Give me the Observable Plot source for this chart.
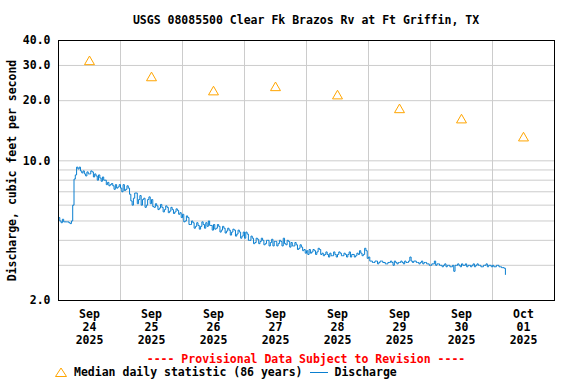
<!DOCTYPE html>
<html>
<head>
<meta charset="utf-8">
<script src="https://cdn.jsdelivr.net/npm/d3@7"></script>
<script src="https://cdn.jsdelivr.net/npm/@observablehq/plot@0.6"></script>
<style>
  body { margin: 0; background: white; }
  #wrap { position: relative; width: 576px; height: 384px; font-family: "DejaVu Sans Mono", monospace; font-weight: bold; font-size: 11.5px; color: black; }
  .abs { position: absolute; white-space: nowrap; line-height: 14px; }
  #legend { display: flex; align-items: center; height: 14px; }
</style>
</head>
<body>
<div id="wrap">
  <div class="abs" style="top:13px;left:58px;width:496px;text-align:center;">USGS 08085500 Clear Fk Brazos Rv at Ft Griffin, TX</div>
  <div id="chart" style="position:absolute;top:30px;left:0;"></div>
  <div class="abs" style="top:352px;left:58px;width:496px;text-align:center;color:#ff0000;">---- Provisional Data Subject to Revision ----</div>
  <div class="abs" id="legend" style="top:365px;left:54px;"><svg width="14" height="12"><path d="M7,2 L12.5,10.5 L1.5,10.5 Z" fill="none" stroke="orange" stroke-width="1"/></svg><span style="margin-left:6px">Median daily statistic (86 years)</span><svg width="18" height="10" style="margin-left:8px"><line x1="0" y1="5.5" x2="18" y2="5.5" stroke="#0a7fd0" stroke-width="1"/></svg><span style="margin-left:6px">Discharge</span></div>
</div>
<script>
// ---- data ----
const startDay = [2025, 8, 24]; // Sep 24 2025 (month index 8)
const tickMonths = ["Sep", "Sep", "Sep", "Sep", "Sep", "Sep", "Sep", "Oct"];
const tickDays = ["24", "25", "26", "27", "28", "29", "30", "01"];
const tickYear = "2025";
const yTickLabels = [2, 10, 20, 30, 40];
const yGridValues = [3, 4, 5, 6, 7, 8, 9, 10, 20, 30];
const medianValues = [31.3, 26.0, 22.1, 23.2, 21.1, 18.0, 16.0, 13.0];
// 30-minute discharge readings, cfs, starting Sep 24 00:00
const dischargeSep24 = [5.2,5.0,4.9,5.1,4.95,4.95,4.95,4.95,4.9,4.85,5.0,6.0,8.1,8.5,9.3,9.1,9.3,8.9,8.7,8.9,8.6,8.4,8.8,8.6,
  8.6,8.9,8.8,8.3,8.6,8.4,8.0,8.5,8.2,7.9,8.3,8.0,8.0,7.6,7.8,7.5,7.6,7.7,7.5,7.2,7.6,7.3,7.4,7.6];
const dischargeSep25 = [7.3,7.0,7.6,7.1,7.2,7.5,7.3,6.8,6.3,6.0,6.5,6.9,6.9,6.1,6.4,6.7,6.0,6.4,6.5,5.85,6.0,6.4,6.6,6.1,
  6.4,5.9,5.85,6.1,5.95,5.7,5.8,6.05,5.85,5.55,5.7,5.95,5.85,5.5,5.6,5.85,5.7,5.45,5.55,5.75,5.65,5.4,5.5,5.2];
const dischargeSep26 = [5.4,4.95,5.0,5.3,5.2,4.8,4.8,5.0,4.9,4.6,4.7,4.9,4.75,4.55,4.7,4.95,4.8,4.6,4.9,4.7,5.0,4.75,4.75,4.5,
  4.8,4.55,4.6,4.8,4.7,4.4,4.5,4.7,4.6,4.35,4.45,4.6,4.5,4.25,4.4,4.55,4.5,4.2,4.3,4.5,4.4,4.1,4.2,4.4];
const dischargeSep27 = [4.1,4.4,4.3,4.0,4.0,4.2,4.1,3.85,3.9,4.1,4.05,3.85,3.95,4.1,4.0,3.8,3.85,4.0,4.0,3.75,3.9,4.05,3.75,3.95,
  3.95,3.75,3.85,4.0,3.95,3.75,4.1,3.85,3.8,4.0,3.95,3.7,3.9,3.75,3.75,3.9,3.8,3.6,3.65,3.8,3.7,3.55,3.6,3.45];
const dischargeSep28 = [3.55,3.4,3.6,3.45,3.5,3.6,3.55,3.4,3.5,3.65,3.6,3.4,3.45,3.35,3.4,3.5,3.4,3.3,3.45,3.35,3.35,3.5,3.4,3.3,
  3.4,3.5,3.45,3.35,3.35,3.45,3.4,3.3,3.4,3.5,3.3,3.4,3.4,3.3,3.35,3.45,3.4,3.55,3.45,3.35,3.4,3.65,3.55,3.25];
const dischargeSep29 = [3.3,3.15,3.15,3.1,3.1,3.15,3.15,3.05,3.1,3.15,3.15,3.1,3.1,3.05,3.05,3.1,3.1,3.15,3.1,3.0,3.15,3.1,3.05,3.1,
  3.1,3.15,3.1,3.05,3.15,3.1,3.1,3.15,3.3,3.15,3.1,3.15,3.15,3.1,3.1,3.05,3.1,3.15,3.05,3.1,3.1,3.05,3.05,3.0];
const dischargeSep30 = [3.0,3.05,3.05,3.15,3.0,3.05,3.05,3.0,3.0,2.95,3.0,3.05,2.95,3.0,3.0,2.95,2.95,3.0,2.8,3.0,3.0,3.05,3.0,2.95,
  3.05,3.0,3.0,3.05,2.95,3.0,3.0,2.95,3.0,3.05,2.95,3.0,3.05,3.0,3.0,2.95,2.95,3.0,3.0,3.05,2.95,3.0,3.0,2.95];
const dischargeOct01 = [3.0,2.95,2.95,3.0,3.0,2.95,2.95,2.92,2.92,2.9,2.7];

// ---- build tables ----
const MIN30 = 1800e3, HOUR = 3600e3, DAY = 24 * HOUR;
const t0 = Date.UTC(startDay[0], startDay[1], startDay[2]);
const dischargeAll = [].concat(dischargeSep24, dischargeSep25, dischargeSep26, dischargeSep27,
  dischargeSep28, dischargeSep29, dischargeSep30, dischargeOct01);
const discharge = dischargeAll.map((v, i) => ({date: new Date(t0 + i * MIN30), value: v}));
const medians = medianValues.map((v, i) => ({date: new Date(t0 + i * DAY + 12 * HOUR), value: v}));
const tickDates = tickDays.map((d, i) => new Date(t0 + i * DAY + 12 * HOUR));
const gridDates = d3.range(1, tickDays.length).map(i => new Date(t0 + i * DAY));
const xDomain = [new Date(t0), new Date(t0 + tickDays.length * DAY)];

const chart = Plot.plot({
  width: 576,
  height: 320,
  marginTop: 10,
  marginBottom: 50,
  marginLeft: 58,
  marginRight: 22,
  style: {fontFamily: "DejaVu Sans Mono", fontSize: "11.5px", fontWeight: "bold", background: "white", color: "black"},
  x: {type: "utc", domain: xDomain},
  y: {type: "log", domain: [2, 40]},
  marks: [
    Plot.gridX(gridDates, {stroke: "#cccccc", strokeOpacity: 1}),
    Plot.gridY(yGridValues, {stroke: "#cccccc", strokeOpacity: 1}),
    Plot.axisX({ticks: tickDates, tickSize: 0, tickPadding: 8, lineHeight: 1.13,
      tickFormat: (d, i) => `${tickMonths[i]}\n${tickDays[i]}\n${tickYear}`, label: null, fill: "black"}),
    Plot.axisY({ticks: yTickLabels, tickSize: 0, tickPadding: 8, tickFormat: d => d.toFixed(1), label: null, fill: "black"}),
    Plot.text(["Discharge, cubic feet per second"], {frameAnchor: "left", dx: -46, rotate: -90, textAnchor: "middle", fill: "black"}),
    Plot.line(discharge, {x: "date", y: "value", stroke: "#0a7fd0", strokeWidth: 1, curve: "step-after"}),
    Plot.dot(medians, {x: "date", y: "value", symbol: "triangle", r: 3.7, stroke: "orange", fill: "none", strokeWidth: 1}),
    Plot.frame({stroke: "black"})
  ]
});
document.getElementById("chart").appendChild(chart);
</script>
</body>
</html>
